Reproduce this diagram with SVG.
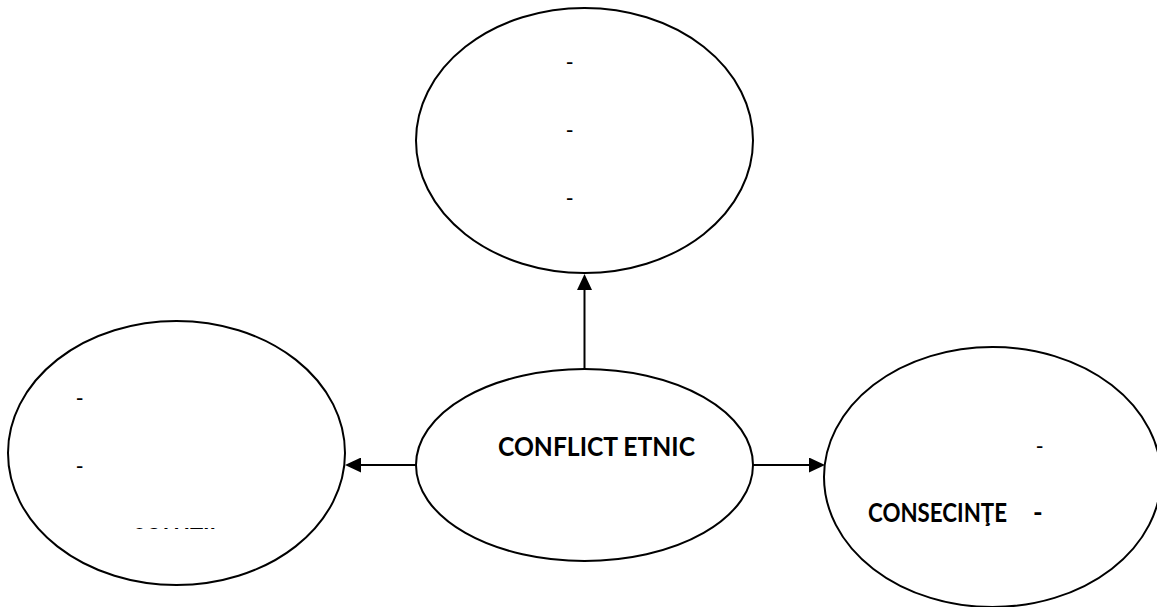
<svg xmlns="http://www.w3.org/2000/svg" width="1157" height="607" viewBox="0 0 1157 607">
  <style>
    .node ellipse { fill: #ffffff; stroke: #000000; stroke-width: 2; }
    .conn line { stroke: #000000; stroke-width: 2; fill: none; }
    .dash { font-family: "Liberation Sans", Arial, sans-serif; font-size: 22px; fill: #000000; }
    .title { font-family: Lato, "Liberation Sans", Arial, sans-serif; font-size: 26px; font-weight: bold; fill: #000000; }
  </style>
  <defs>
    <marker id="arrow" markerUnits="userSpaceOnUse" markerWidth="16" markerHeight="15" refX="0" refY="7.5" orient="auto">
      <path d="M0,0 L16,7.5 L0,15 Z" fill="#000000"/>
    </marker>
    <clipPath id="clipSol">
      <rect x="100" y="500" width="160" height="29"/>
    </clipPath>
  </defs>
  <rect x="0" y="0" width="1157" height="607" fill="#ffffff"/>

  <g id="connectors" class="conn">
    <line x1="584.5" y1="369" x2="584.5" y2="290" marker-end="url(#arrow)"/>
    <line x1="416" y1="465" x2="361" y2="465" marker-end="url(#arrow)"/>
    <line x1="753" y1="465" x2="809" y2="465" marker-end="url(#arrow)"/>
  </g>

  <g id="node-top" class="node">
    <ellipse cx="584.5" cy="140.5" rx="168.5" ry="132.5"/>
    <text class="dash" x="566" y="69">-</text>
    <text class="dash" x="566" y="137">-</text>
    <text class="dash" x="566" y="205">-</text>
  </g>

  <g id="node-center" class="node">
    <ellipse cx="584.5" cy="465" rx="168.5" ry="96"/>
    <text class="title" x="498" y="456" textLength="197" lengthAdjust="spacingAndGlyphs">CONFLICT ETNIC</text>
  </g>

  <g id="node-left" class="node">
    <ellipse cx="176.5" cy="453" rx="168.5" ry="132"/>
    <text class="dash" x="76" y="405">-</text>
    <text class="dash" x="76" y="473">-</text>
    <g clip-path="url(#clipSol)">
      <text class="title" x="133" y="547" textLength="83" lengthAdjust="spacingAndGlyphs">SOLUŢII</text>
    </g>
  </g>

  <g id="node-right" class="node">
    <ellipse cx="992.5" cy="477" rx="168.5" ry="130"/>
    <text class="dash" x="1036" y="453">-</text>
    <text class="title" x="868" y="522" textLength="139" lengthAdjust="spacingAndGlyphs">CONSECINŢE</text>
    <text class="title" x="1033" y="522">-</text>
  </g>
</svg>
